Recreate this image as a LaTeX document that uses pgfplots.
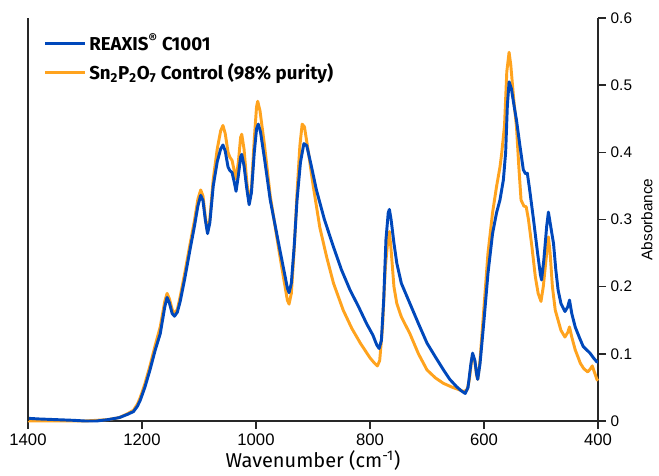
\documentclass[border=0pt]{standalone}
\usepackage{fontspec}
\setmainfont{Liberation Sans}
\newfontfamily\plex{Fira Sans}
\usepackage{pgfplots}
\pgfplotsset{compat=1.18}

\definecolor{reaxblue}{RGB}{0,72,187}
\definecolor{ctrlorange}{RGB}{255,163,30}
\definecolor{axisgray}{RGB}{40,40,40}

\pgfplotstableread{
w y
1400 0.004
1380 0.003
1350 0.002
1320 0.001
1300 0.000
1280 0.000
1260 0.002
1240 0.005
1225 0.010
1215 0.014
1208 0.022
1203 0.031
1195 0.050
1186 0.076
1177 0.105
1168 0.130
1160 0.170
1156 0.184
1152 0.176
1147 0.160
1143 0.156
1138 0.162
1133 0.178
1125 0.212
1116 0.254
1108 0.290
1102 0.320
1097 0.336
1093 0.328
1089 0.300
1085 0.279
1081 0.295
1075 0.350
1068 0.386
1062 0.405
1058 0.411
1054 0.402
1049 0.378
1046 0.373
1042 0.370
1038 0.355
1035 0.342
1031 0.365
1027 0.393
1025 0.397
1021 0.380
1016 0.345
1012 0.322
1008 0.340
1003 0.400
999 0.435
996 0.442
992 0.430
985 0.390
975 0.329
965 0.285
958 0.254
950 0.220
945 0.198
942 0.191
938 0.205
933 0.260
928 0.329
922 0.385
916 0.413
911 0.410
903 0.380
894 0.344
880 0.300
864 0.259
850 0.225
835 0.195
820 0.170
806 0.145
795 0.128
788 0.113
784 0.108
780 0.120
776 0.180
772 0.270
768 0.310
766 0.315
763 0.300
758 0.265
753 0.235
745 0.205
730 0.175
715 0.145
700 0.116
685 0.095
671 0.076
660 0.062
648 0.051
640 0.045
633 0.041
628 0.050
623 0.085
620 0.101
616 0.090
613 0.070
611 0.062
607 0.085
600 0.150
593 0.220
585 0.279
578 0.310
572 0.329
566 0.359
562 0.400
559 0.470
556 0.505
552 0.495
547 0.468
543 0.448
537 0.410
531 0.374
527 0.368
524 0.369
520 0.345
513 0.299
506 0.250
501 0.218
499 0.210
495 0.240
490 0.290
487 0.311
483 0.290
478 0.264
474 0.225
470 0.195
465 0.175
458 0.163
453 0.170
450 0.180
446 0.160
440 0.140
433 0.125
426 0.111
420 0.106
414 0.101
408 0.094
402 0.088
400 0.088
}\reaxis

\pgfplotstableread{
w y
1400 0.000
1350 0.000
1300 0.000
1260 0.002
1240 0.005
1225 0.011
1215 0.016
1208 0.025
1203 0.035
1195 0.055
1186 0.082
1177 0.112
1168 0.140
1160 0.178
1156 0.190
1152 0.182
1147 0.166
1143 0.160
1138 0.166
1133 0.185
1125 0.220
1116 0.262
1108 0.298
1102 0.330
1097 0.344
1093 0.335
1089 0.305
1085 0.282
1081 0.300
1075 0.360
1068 0.405
1062 0.432
1058 0.440
1054 0.428
1049 0.400
1046 0.393
1042 0.388
1038 0.372
1035 0.360
1031 0.385
1027 0.422
1025 0.427
1021 0.405
1016 0.355
1012 0.325
1008 0.345
1003 0.420
999 0.468
997 0.476
993 0.462
985 0.410
975 0.335
965 0.282
958 0.245
950 0.205
945 0.180
942 0.174
938 0.190
933 0.255
928 0.340
923 0.410
919 0.442
915 0.438
908 0.400
900 0.352
888 0.288
876 0.244
864 0.205
847 0.165
832 0.138
817 0.116
800 0.094
792 0.086
787 0.082
783 0.090
778 0.140
773 0.230
768 0.275
766 0.282
763 0.255
758 0.200
753 0.175
745 0.155
730 0.130
715 0.100
700 0.076
685 0.064
671 0.056
655 0.050
645 0.047
636 0.044
630 0.046
626 0.060
622 0.088
620 0.098
616 0.088
613 0.068
611 0.062
607 0.090
600 0.170
593 0.250
585 0.310
578 0.349
572 0.378
569 0.398
564 0.440
560 0.520
556 0.549
553 0.530
548 0.480
543 0.438
539 0.380
535 0.329
530 0.320
526 0.319
522 0.300
516 0.260
510 0.215
505 0.190
500 0.178
496 0.200
490 0.250
487 0.274
484 0.250
480 0.200
475 0.165
470 0.150
465 0.135
458 0.125
453 0.132
450 0.140
446 0.125
440 0.106
435 0.095
431 0.086
425 0.078
418 0.073
413 0.078
410 0.082
406 0.072
402 0.062
400 0.060
}\control

\begin{document}
\begin{tikzpicture}
\begin{axis}[
    scale only axis,
    width=427.5pt,
    height=302.25pt,
    x dir=reverse,
    xmin=400, xmax=1400,
    ymin=0, ymax=0.6,
    axis x line=bottom,
    axis y line=right,
    axis line style={-, line width=1.1pt, color=axisgray},
    tick style={line width=1.1pt, color=axisgray},
    tick align=outside,
    major tick length=6pt,
    xtick={400,600,...,1400},
    ytick={0,0.1,...,0.6},
    /pgf/number format/assume math mode=true,
    x tick label style={font=\fontsize{12.5}{14}\selectfont, /pgf/number format/set thousands separator={}},
    y tick label style={font=\fontsize{11.5}{14}\selectfont, /pgf/number format/fixed, /pgf/number format/precision=1},
    xlabel={\plex Wavenumber (cm\textsuperscript{-1})},
    xlabel style={font=\fontsize{15}{17}\selectfont, yshift=3pt},
    ylabel={Absorbance},
    ylabel style={font=\fontsize{11.5}{14}\selectfont},
    legend cell align=left,
    reverse legend,
    legend style={at={(0.02,0.975)}, anchor=north west, draw=none, fill=none,
        font=\plex\bfseries\fontsize{14}{16}\selectfont,
        row sep=4pt},
    legend image code/.code={\draw[#1] (0pt,0pt) -- (30pt,0pt);},
    clip=false,
]
\addplot[ctrlorange, line width=2.2pt, line join=round] table[x=w, y=y] {\control};
\addlegendentry{Sn\textsubscript{2}P\textsubscript{2}O\textsubscript{7} Control (98\% purity)}
\addplot[reaxblue, line width=2.2pt, line join=round] table[x=w, y=y] {\reaxis};
\addlegendentry{REAXIS\textsuperscript{®} C1001}
\draw[line width=1.1pt, color=axisgray] (rel axis cs:0,0) -- (rel axis cs:0,1);
\coordinate (sw) at (rel axis cs:0,0);
\coordinate (ne) at (rel axis cs:1,1);
\end{axis}
\path ([shift={(-21pt,-41.25pt)}]sw) rectangle ([shift={(45.75pt,13.5pt)}]ne);
\end{tikzpicture}
\end{document}
